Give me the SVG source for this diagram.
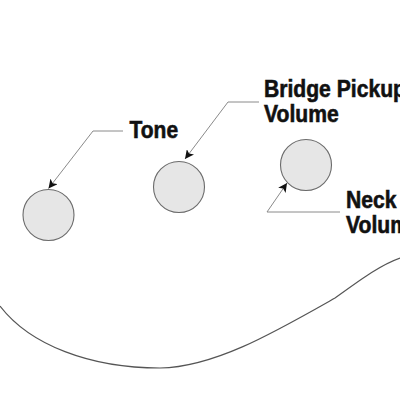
<svg xmlns="http://www.w3.org/2000/svg" width="400" height="400" viewBox="0 0 400 400">
<defs>
<style>
.knob{fill:#e6e6e6;stroke:#6b6b6b;stroke-width:1.1}
.lead{fill:none;stroke:#8a8a8a;stroke-width:1}
.lbl{font-family:"Liberation Sans",Arial,sans-serif;font-weight:bold;font-size:24px;fill:#111;stroke:#111;stroke-width:0.6}
.body{fill:none;stroke:#555;stroke-width:1.2}
</style>
<marker id="ah" viewBox="0 0 10 10" refX="10" refY="5" markerWidth="9" markerHeight="9" markerUnits="userSpaceOnUse" orient="auto">
<path d="M0,0 L10,5 L0,10 L2.5,5 Z" fill="#111"/>
</marker>
</defs>
<rect width="400" height="400" fill="#fff"/>
<path class="body" d="M0,306 C30,345 90,368 160,368 C215,367 275,332 335,298 C360,280 380,265 400,258"/>
<g id="tone">
<circle class="knob" cx="48.5" cy="215" r="25.5"/>
<text class="lbl" transform="translate(129.5,138.3) scale(0.875,1)">Tone</text>
</g>
<g id="bridge-volume">
<circle class="knob" cx="179" cy="187" r="25.5"/>
<text class="lbl" transform="translate(264,97) scale(0.88,1)">Bridge Pickup</text>
<text class="lbl" transform="translate(264,122) scale(0.88,1)">Volume</text>
</g>
<g id="neck-volume">
<circle class="knob" cx="306" cy="165" r="25.5"/>
<text class="lbl" transform="translate(346,207.5) scale(0.88,1)">Neck</text>
<text class="lbl" transform="translate(346,233) scale(0.88,1)">Volume</text>
</g>
<g id="connectors">
<polyline class="lead" points="123,131 93,131 48.5,188.5" marker-end="url(#ah)"/>
<polyline class="lead" points="259,102 228,102 185,159" marker-end="url(#ah)"/>
<polyline class="lead" points="340,212 267,212 287,183" marker-end="url(#ah)"/>
</g>
</svg>
